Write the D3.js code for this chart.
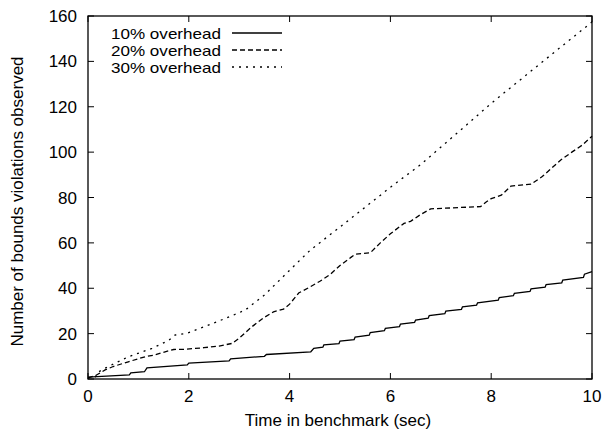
<!DOCTYPE html>
<html><head><meta charset="utf-8">
<script src="https://cdn.jsdelivr.net/npm/d3@7"></script>
<style>
body{margin:0;background:#fff;}
text{font-family:"Liberation Sans",Arial,Helvetica,sans-serif;fill:#000;}
</style></head>
<body><svg id="chart" width="603" height="431"></svg>
<script>
const seriesNames = ["10% overhead","20% overhead","30% overhead"];
const xTicks = [0,2,4,6,8,10];
const yTicks = [0,20,40,60,80,100,120,140,160];
const xLabel = "Time in benchmark (sec)";
const yLabel = "Number of bounds violations observed";

const overhead10 = [
 [0,0.8],[0.82,1.8],[0.85,2.7],[1.12,3.2],[1.17,4.9],[1.97,6.2],[2.0,7.0],
 [2.8,8.0],[2.83,8.9],[3.5,10.0],[3.54,10.8],[4.42,12.0],
 [4.48,13.5],[4.66,14.0],[4.68,15.0],[4.98,15.6],[5.0,16.7],[5.28,17.4],
 [5.3,18.5],[5.58,19.3],[5.6,20.5],[5.88,21.3],[5.9,22.3],[6.18,23.1],
 [6.2,24.2],[6.48,25.0],[6.5,26.0],[6.75,26.8],[6.77,27.9],[7.08,28.8],
 [7.1,29.9],[7.41,30.7],[7.43,31.8],[7.71,32.6],[7.73,33.6],[8.14,34.8],
 [8.16,35.9],[8.44,36.7],[8.46,37.8],[8.77,38.6],[8.79,39.7],[9.07,40.5],
 [9.09,41.6],[9.4,42.4],[9.42,43.6],[9.83,44.8],[9.85,46.2],[10,47.3]
];
const overhead20 = [
 [0,0.5],[0.15,1.5],[0.34,4],[0.5,5.5],[0.8,7.6],[1.13,9.8],[1.3,10.5],[1.53,12],
 [1.7,13],[1.93,13.1],[2.3,13.8],[2.6,14.5],[2.86,15.7],[3.0,18],[3.25,23],
 [3.48,26.9],[3.68,29.6],[3.88,30.8],[4.0,33],[4.18,37.9],[4.4,40.5],[4.61,43.2],
 [4.8,46],[5.0,50],[5.21,53.5],[5.3,55],[5.6,55.6],[5.8,60],[6.0,64],[6.27,68.6],
 [6.4,69.5],[6.6,72.5],[6.8,75],[7.2,75.4],[7.79,76],[7.9,78],[8.0,79.5],[8.2,81],
 [8.39,85],[8.79,85.9],[9.0,89],[9.38,96.5],[9.6,100],[9.8,103],[10,107]
];
const overhead30 = [
 [0,0.5],[0.15,1],[0.2,3],[0.34,4.8],[0.8,9.8],[1.27,13.5],[1.6,17],[1.73,19.4],
 [1.96,20.1],[2.3,23],[2.59,25.5],[2.89,28.2],[3.12,30.4],[3.5,37],[4.21,52.5],
 [4.41,56.8],[5.0,67],[6.0,84.5],[6.6,94.5],[7.46,111],[8.0,121.5],[9.0,139.5],
 [9.98,157],[10,157.5]
];
const dashes = [null, "5,3", "2,5"];

const svg = d3.select("#chart");
const L = 88, R = 592, T = 16, B = 379;
const x = d3.scaleLinear().domain([0,10]).range([L,R]);
const y = d3.scaleLinear().domain([0,160]).range([B,T]);
const fs = 17;

// ticks
const tk = 6;
const g = svg.append("g").attr("stroke","#000").attr("stroke-width",1);
xTicks.forEach(t=>{
  g.append("line").attr("x1",x(t)).attr("x2",x(t)).attr("y1",B).attr("y2",B-tk);
  g.append("line").attr("x1",x(t)).attr("x2",x(t)).attr("y1",T).attr("y2",T+tk);
});
yTicks.forEach(t=>{
  g.append("line").attr("x1",L).attr("x2",L+tk).attr("y1",y(t)).attr("y2",y(t));
  g.append("line").attr("x1",R).attr("x2",R-tk).attr("y1",y(t)).attr("y2",y(t));
});
xTicks.forEach(t=>{
  svg.append("text").attr("x",x(t)).attr("y",402).attr("text-anchor","middle")
    .attr("font-size",fs).text(t);
});
yTicks.forEach(t=>{
  svg.append("text").attr("x",77).attr("y",y(t)+6).attr("text-anchor","end")
    .attr("font-size",fs).text(t);
});
svg.append("text").attr("x",(L+R)/2 - 2).attr("y",426).attr("text-anchor","middle")
  .attr("font-size",fs).text(xLabel);
svg.append("text").attr("transform","translate(23,"+((T+B)/2 + 4)+") rotate(-90)")
  .attr("text-anchor","middle").attr("font-size",fs).text(yLabel);

// lines
const line = d3.line().x(d=>x(d[0])).y(d=>y(d[1]));
[overhead10, overhead20, overhead30].forEach((s,i)=>{
  svg.append("path").datum(s).attr("d",line).attr("fill","none")
    .attr("stroke","#000").attr("stroke-width",1.3)
    .attr("stroke-dasharray",dashes[i]);
});

// frame
svg.append("rect").attr("x",L).attr("y",T).attr("width",R-L).attr("height",B-T)
  .attr("fill","none").attr("stroke","#000").attr("stroke-width",1.3);

// legend
seriesNames.forEach((n,i)=>{
  const yy = 33 + i*17;
  svg.append("text").attr("x",111).attr("y",yy+5.5)
    .attr("font-size",14.8).attr("textLength",110).attr("lengthAdjust","spacingAndGlyphs")
    .text(n);
  svg.append("line").attr("x1",232).attr("x2",282).attr("y1",yy).attr("y2",yy)
    .attr("stroke","#000").attr("stroke-width",1.3).attr("stroke-dasharray",dashes[i]);
});
</script></body></html>
